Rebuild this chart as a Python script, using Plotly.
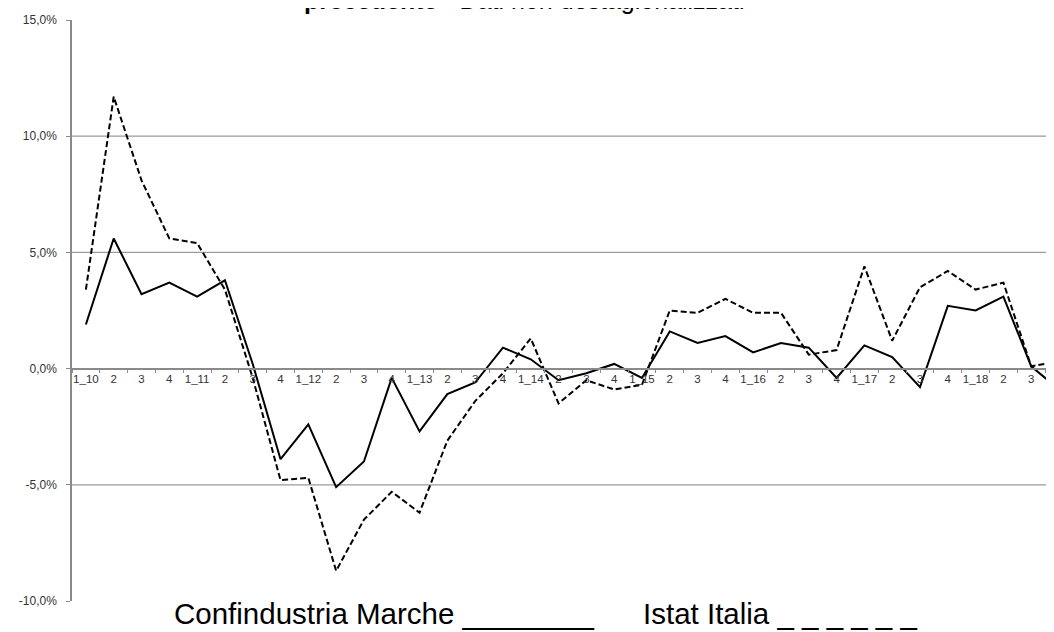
import plotly.graph_objects as go

# quarters 2010Q1 .. 2018Q4
quarters = [f"{y}Q{q}" for y in range(2010, 2019) for q in range(1, 5)]
tick_labels = [f"1_{y % 100}" if q == 1 else str(q) for y in range(2010, 2019) for q in range(1, 5)]

marche = [1.9, 5.6, 3.2, 3.7, 3.1, 3.8, 0.2, -3.9,
          -2.4, -5.1, -4.0, -0.4, -2.7, -1.1, -0.6, 0.9,
          0.4, -0.5, -0.2, 0.2, -0.4, 1.6, 1.1, 1.4,
          0.7, 1.1, 0.9, -0.4, 1.0, 0.5, -0.8, 2.7,
          2.5, 3.1, 0.1, -0.9]

italia = [3.4, 11.7, 8.1, 5.6, 5.4, 3.4, -0.4, -4.8,
          -4.7, -8.7, -6.5, -5.3, -6.2, -3.1, -1.4, -0.2,
          1.3, -1.5, -0.5, -0.9, -0.7, 2.5, 2.4, 3.0,
          2.4, 2.4, 0.6, 0.8, 4.4, 1.2, 3.5, 4.2,
          3.4, 3.7, 0.1, 0.3]

y_ticks = [-10, -5, 0, 5, 10, 15]
y_tick_text = ["-10,0%", "-5,0%", "0,0%", "5,0%", "10,0%", "15,0%"]
grid_at = [10, 5, -5]

fig = go.Figure()
fig.add_trace(go.Scatter(x=quarters, y=italia, mode="lines", name="Istat Italia",
                         line=dict(color="black", width=2, dash="6px,3px")))
fig.add_trace(go.Scatter(x=quarters, y=marche, mode="lines", name="Confindustria Marche",
                         line=dict(color="black", width=2)))

for g in grid_at:
    fig.add_shape(type="line", xref="paper", x0=0, x1=1, yref="y", y0=g, y1=g,
                  line=dict(color="#9a9a9a", width=1.2), layer="below")

fig.update_xaxes(
    type="category",
    tickvals=quarters,
    ticktext=tick_labels,
    range=[-0.5, 34.82],
    anchor="free",
    position=0.4,
    showline=True,
    linecolor="#8a8a8a",
    linewidth=1.5,
    ticks="outside",
    tickson="boundaries",
    ticklen=4,
    tickcolor="#8a8a8a",
    showgrid=False,
    tickangle=0,
    automargin=False,
    tickfont=dict(family="Liberation Sans", size=11.5, color="#333333"),
)

fig.update_yaxes(
    range=[-10, 15],
    tickvals=y_ticks,
    ticktext=y_tick_text,
    showline=True,
    linecolor="#8a8a8a",
    linewidth=1.5,
    ticks="outside",
    ticklen=4,
    tickcolor="#8a8a8a",
    ticklabelstandoff=7,
    showgrid=False,
    zeroline=False,
    automargin=False,
    tickfont=dict(family="Liberation Sans", size=12, color="#333333"),
)

fig.add_annotation(
    text="<b>precedente</b> - Dati non destagionalizzati",
    xref="paper", yref="paper", x=0.461, y=1, yshift=4,
    showarrow=False, yanchor="bottom",
    font=dict(family="Liberation Sans", size=25, color="black"),
)
fig.add_annotation(
    text="Confindustria Marche ________      Istat Italia _ _ _ _ _ _",
    xref="paper", yref="paper", x=0.482, y=0, yshift=-31,
    showarrow=False, yanchor="bottom",
    font=dict(family="Liberation Sans", size=29.5, color="black"),
)

# page body adds an 8px margin, so the figure is sized to fill the rest
fig.update_layout(
    width=1046,
    height=624,
    margin=dict(l=64, r=0, t=12, b=31),
    showlegend=False,
    plot_bgcolor="white",
    paper_bgcolor="white",
)

fig.write_html("out.html")
